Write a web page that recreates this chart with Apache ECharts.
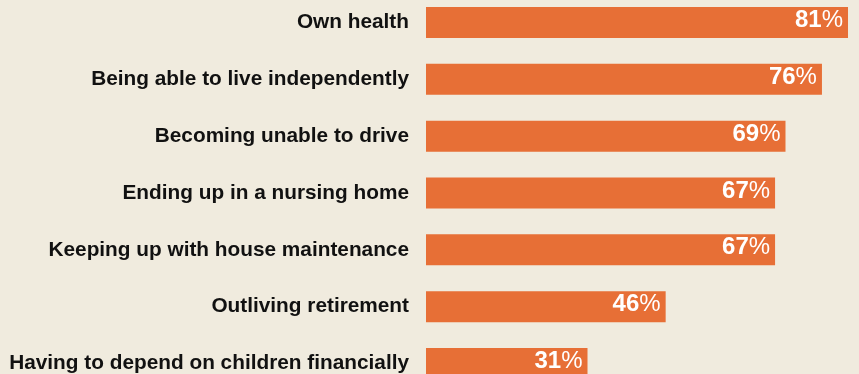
<!DOCTYPE html>
<html>
<head>
<meta charset="utf-8">
<script src="https://cdn.jsdelivr.net/npm/echarts@6/dist/echarts.min.js"></script>
<style>
  html, body { margin: 0; padding: 0; background: #f0ebde; overflow: hidden; }
  body { width: 859px; height: 374px; position: relative; }
  /* the plot runs a little past the top and right edges of the page */
  #chart { position: absolute; left: 0; top: -6px; width: 947px; height: 398px; }
</style>
</head>
<body>
<div id="chart"></div>
<script>
// Worries about growing older, share of respondents (%)
const categories = [
  'Own health',
  'Being able to live independently',
  'Becoming unable to drive',
  'Ending up in a nursing home',
  'Keeping up with house maintenance',
  'Outliving retirement',
  'Having to depend on children financially'
];
const values = [81, 76, 69, 67, 67, 46, 31];

const chart = echarts.init(document.getElementById('chart'), null, { renderer: 'canvas' });

chart.setOption({
  backgroundColor: '#f0ebde',
  animation: false,
  grid: { left: 426, top: 0, width: 521, height: 398, containLabel: false },
  xAxis: {
    type: 'value',
    min: 0,
    max: 100,
    show: false
  },
  yAxis: {
    type: 'category',
    data: categories,
    inverse: true,
    axisLine: { show: false },
    axisTick: { show: false },
    splitLine: { show: false },
    axisLabel: {
      margin: 17,
      color: '#111111',
      fontFamily: 'Liberation Sans, Arial, sans-serif',
      fontWeight: 'bold',
      fontSize: 20.8
    }
  },
  series: [{
    type: 'bar',
    data: values,
    barWidth: 31,
    itemStyle: { color: '#e76f36' },
    label: {
      show: true,
      position: 'insideRight',
      distance: 5,
      offset: [0, -2],
      formatter: p => '{n|' + p.value + '}{p|%}',
      rich: {
        n: {
          color: '#ffffff',
          fontFamily: 'Liberation Sans, Arial, sans-serif',
          fontWeight: 'bold',
          fontSize: 24
        },
        p: {
          color: '#ffffff',
          fontFamily: 'Liberation Sans, Arial, sans-serif',
          fontWeight: 'normal',
          fontSize: 24
        }
      }
    }
  }]
});
</script>
</body>
</html>
